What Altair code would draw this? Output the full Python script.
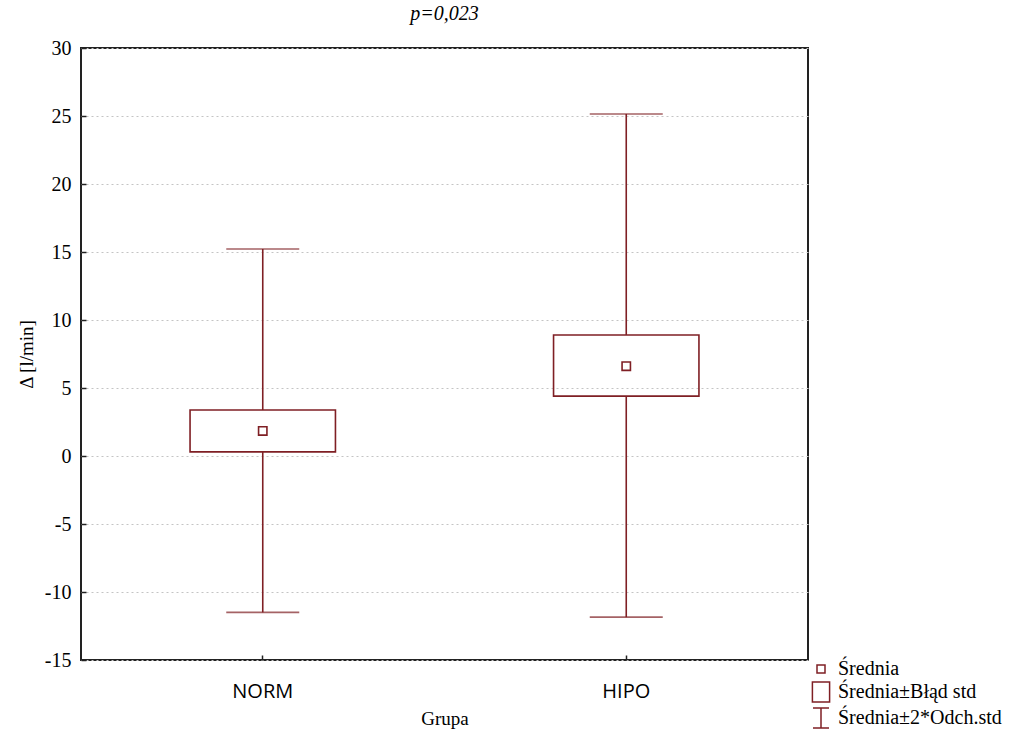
import altair as alt
import pandas as pd

groups = ["NORM", "HIPO"]
mean = [1.84, 6.6]
se_low = [0.3, 4.4]
se_high = [3.38, 8.9]
sd2_low = [-11.5, -11.85]
sd2_high = [15.22, 25.15]

y_ticks = [-15, -10, -5, 0, 5, 10, 15, 20, 25, 30]
legend_labels = ["Średnia", "Średnia±Błąd std", "Średnia±2*Odch.std"]
legend_shapes = [
    "M-0.4,-0.4H0.4V0.4H-0.4Z",
    "M-0.86,-1H0.86V1H-0.86Z",
    "M-0.8,-1H0.8M0,-1V1M-0.8,1H0.8",
]

COLOR = "#7f1f24"
SERIF = "Liberation Serif"

df = pd.DataFrame({
    "Grupa": groups, "mean": mean, "se_low": se_low, "se_high": se_high,
    "sd_low": sd2_low, "sd_high": sd2_high,
})
leg = pd.DataFrame({"item": legend_labels})

xscale = alt.Scale(paddingInner=0, paddingOuter=0)
yscale = alt.Scale(domain=[-15, 30], nice=False)

x_main = alt.X("Grupa:N", sort=groups, scale=xscale,
               axis=alt.Axis(title="Grupa", labelAngle=0, labelFont="Open Sans",
                             labelFontSize=20, labelColor="black", labelPadding=21,
                             titleFont=SERIF, titleFontSize=19, titleFontWeight="normal",
                             titleColor="black", titlePadding=8, ticks=False, domain=False))
x_none = alt.X("Grupa:N", sort=groups, scale=xscale, axis=None)
x_ticks = alt.X("Grupa:N", sort=groups, scale=xscale,
                axis=alt.Axis(orient="top", offset=-612, labels=False, title=None,
                              domain=False, grid=False, ticks=True, tickSize=5,
                              tickColor="#222222", tickWidth=1.5))

yaxis = alt.Axis(values=y_ticks, grid=True, gridDash=[2, 3], gridColor="#c4c4c4",
                 ticks=False, domain=False, labelFont=SERIF, labelFontSize=20,
                 labelExpr="toString(datum.value)",
                 labelColor="black", labelPadding=10, title="Δ [l/min]",
                 titleFont=SERIF, titleFontSize=19, titleFontWeight="normal",
                 titleColor="black", titlePadding=8)
y_tick_axis = alt.Axis(orient="right", offset=-727, values=y_ticks, labels=False,
                       title=None, domain=False, grid=False, ticks=True, tickSize=5,
                       tickColor="#222222", tickWidth=1.5)

base = alt.Chart(df)

box = base.mark_bar(fill="transparent", stroke=COLOR, strokeWidth=1.6,
                    width=alt.RelativeBandSize(0.4)).encode(
    x=x_main, y=alt.Y("se_low:Q", scale=yscale, axis=yaxis), y2="se_high:Q")

wh_lo = base.mark_rule(color=COLOR, strokeWidth=1.6).encode(
    x=x_none, y=alt.Y("sd_low:Q", scale=yscale, axis=None), y2="se_low:Q")
wh_hi = base.mark_rule(color=COLOR, strokeWidth=1.6).encode(
    x=x_none, y=alt.Y("se_high:Q", scale=yscale, axis=None), y2="sd_high:Q")
cap_lo = base.mark_tick(color=COLOR, thickness=1.6, size=73).encode(
    x=x_none, y=alt.Y("sd_low:Q", scale=yscale, axis=None))
cap_hi = base.mark_tick(color=COLOR, thickness=1.6, size=73).encode(
    x=x_none, y=alt.Y("sd_high:Q", scale=yscale, axis=None))
pts = base.mark_point(shape="square", filled=False, color=COLOR, strokeWidth=1.6,
                      size=70, opacity=1).encode(
    x=x_ticks, y=alt.Y("mean:Q", scale=yscale, axis=y_tick_axis))

legend_layer = alt.Chart(leg).mark_point(filled=False, opacity=0, color=COLOR,
                                         strokeWidth=1.5, size=400).encode(
    x=alt.value(300), y=alt.value(300),
    shape=alt.Shape("item:N", sort=legend_labels,
                    scale=alt.Scale(domain=legend_labels, range=legend_shapes),
                    legend=alt.Legend(title=None, orient="none", legendX=729, legendY=610,
                                      symbolSize=400, symbolStrokeColor=COLOR,
                                      symbolFillColor="transparent", symbolOpacity=1,
                                      symbolStrokeWidth=1.5, labelFont=SERIF,
                                      labelFontSize=20, labelColor="black",
                                      labelOffset=6, rowPadding=0, padding=0,
                                      labelLimit=300)))

chart = alt.layer(legend_layer, wh_lo, wh_hi, cap_lo, cap_hi, box, pts).resolve_axis(
    x="independent", y="independent").properties(
    width=727, height=612, background="white",
    title=alt.TitleParams("p=0,023", font=SERIF, fontStyle="italic", fontSize=20,
                          fontWeight="normal", color="black", anchor="middle", offset=14),
    autosize=alt.AutoSizeParams(type="none"),
    padding={"left": 81, "top": 48, "right": 211, "bottom": 78},
).configure_view(stroke="#222222", strokeWidth=2).configure_axis(
    labelFont=SERIF, titleFont=SERIF).configure_legend(labelFont=SERIF)

chart.save("out.html", embed_options={"renderer": "svg", "actions": False})
